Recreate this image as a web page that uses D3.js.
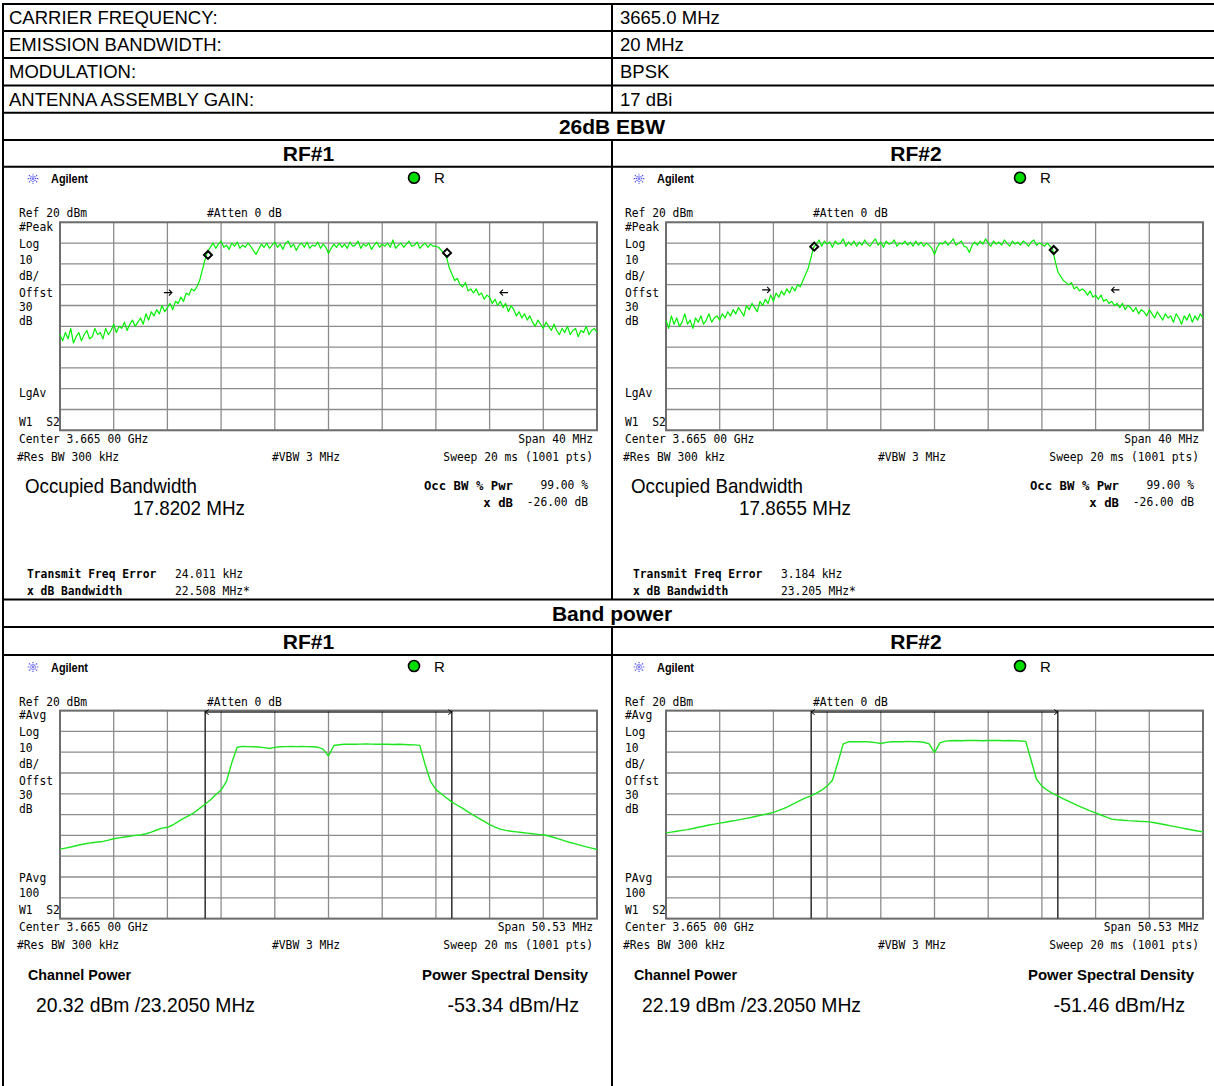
<!DOCTYPE html>
<html>
<head>
<meta charset="utf-8">
<script src="https://cdn.jsdelivr.net/npm/d3@7"></script>
<style>
  body { margin: 0; background: #fff; }
  text { white-space: pre; }
</style>
</head>
<body>
<svg id="sheet" width="1214" height="1086"></svg>
<script>
// ---- table values ----
var infoLabels = ["CARRIER FREQUENCY:", "EMISSION BANDWIDTH:", "MODULATION:", "ANTENNA ASSEMBLY GAIN:"]
var infoValues = ["3665.0 MHz", "20 MHz", "BPSK", "17 dBi"]
var sections = ["26dB EBW", "Band power"]
var ports = ["RF#1", "RF#2"]

// ---- spectrum traces (dBm, evenly spaced over the span) ----
// 26 dB EBW, peak detector, span 40 MHz
var peakRF1 = [
  -34, -37, -33, -36, -31, -38, -35, -33, -37, -34, -32, -36, -35, -31, -34,
  -33, -36, -31, -34, -32, -29, -33, -30, -31, -28, -32, -29, -27, -30, -28,
  -26, -29, -24, -27, -23, -25, -22, -24, -20, -23, -21, -19, -22, -18, -19,
  -16, -18, -14, -15, -12, -13, -11,
  -8, -3, 2, 6,
  8, 10, 7.5, 9.5, 11, 8, 9, 7, 10, 8.5, 10.5, 7.5, 9, 8,
  10, 8.5, 6.5, 4.5, 7, 9.5, 8, 10, 7.5, 9,
  10.5, 8, 9.5, 7, 10, 11, 8, 9.5, 6.5, 9, 10, 8, 10.5, 7.5, 9, 8.5, 10.5, 7.5, 9.5, 8,
  5, 7.5, 9.5, 8,
  10, 8, 9.5, 7.5, 10.5, 8.5, 9, 11, 7.5, 9.5, 8.5, 10, 7, 9, 10.5, 8, 9.5, 8.5,
  10, 8, 11.5, 7.5, 9, 10, 8, 9.5, 11, 8.5, 9, 10.5, 7.5, 9, 10, 8, 9.5, 8.5,
  8.5, 8, 6.5, 5,
  3, -2, -5, -8, -7, -10,
  -11, -9, -13, -12, -14, -12, -15, -14, -17, -15, -16, -19, -17, -20, -18, -21, -19, -23,
  -20, -22, -25, -23, -26, -24, -27, -25, -28, -30, -27, -29, -31, -28, -30, -32, -29,
  -32, -34, -31, -33, -30, -34, -32, -31, -35, -32, -33, -30, -34, -32, -31, -33
]
var peakRF2 = [
  -27, -31, -25, -29, -26, -30, -28, -24, -29, -27, -31, -26, -28, -25, -29, -27, -24, -28, -26, -25, -27,
  -24, -26, -23, -25, -22, -24, -21, -23, -25, -20, -22, -19, -21, -23, -18, -20,
  -17, -19, -15, -18, -14, -16, -13, -15, -12, -14, -11, -13, -10, -11,
  -8, -5, -2, 3, 8,
  9.5, 11.5, 8.5, 11, 9.5, 10.5, 8, 11, 9.5, 10, 12, 8.5, 10.5, 9,
  11, 8.5, 10.5, 9, 11.5, 9.5, 8.5, 10.5, 12, 9, 10.5, 8, 11, 9.5, 10, 11.5, 8.5, 10, 9.5, 11,
  9, 10.5, 8.5, 11, 9, 10.5, 8.5, 10, 9, 7.5,
  4.5, 8, 10, 9.5,
  11, 9, 10.5, 12, 9, 10, 11, 8.5, 8,
  5.5, 9,
  10.5, 9, 11, 9.5, 12, 10, 8.5, 11, 9.5, 10.5, 9, 11.5, 10, 8.5, 11,
  9.5, 10.5, 9, 11, 10, 8.5, 10.5, 11.5, 9, 10, 9.5, 8.5, 10, 8.5,
  7, 1, -4, -6, -8, -9,
  -10, -9, -12, -11, -13, -12, -13, -15, -13, -16, -15, -17, -15, -18, -17, -19,
  -18, -20, -19, -21, -19, -22, -20, -21, -23, -21, -24, -22, -23, -25, -22, -24, -26, -23, -25, -27, -24, -26,
  -25, -28, -24, -26, -29, -25, -27, -24, -28, -25, -27, -24, -26
]
// band power, averaged, span 50.53 MHz
var avgRF1 = [
  -46.6, -46.1, -45.6, -45.0, -44.4, -43.9, -43.5, -43.2, -42.9, -42.3, -41.6,
  -41.2, -40.8, -40.4, -40.0, -39.8, -39.2, -38.4, -37.4, -36.5, -36.1,
  -35, -33.4, -31.8, -30.5, -29, -27, -25, -23, -20.5, -18.2,
  -14, -5, 2.4, 2.8,
  2.7, 2.6, 2.5, 2.2, 1.8, 2.3, 2.6, 2.7, 2.8, 2.7, 2.8, 2.7, 2.6, 2.4,
  1.5, -1.8, 3.2,
  3.6, 3.8, 3.9, 3.8, 3.9, 4.0, 3.9, 3.8, 3.9, 3.8, 3.7, 3.8, 3.7, 3.6, 3.5, 3.3,
  -6, -14, -18, -20, -22, -24, -25.5, -27, -28.7, -30.3,
  -31.8, -33.3, -34.8, -36, -37, -37.6, -38, -38.3, -38.6, -38.9,
  -39.2, -39.5, -39.7, -40.3, -41, -41.8, -42.6, -43.4, -44.1, -44.8,
  -45.5, -46.1, -46.8
]
var avgRF2 = [
  -38.8, -38.4, -38, -37.6, -37.2, -36.7, -36.1, -35.6, -35.0, -34.6, -34.1,
  -33.7, -33.2, -32.8, -32.3, -31.8, -31.3, -30.7, -30.1, -29.6, -28.9,
  -28.0, -27, -25.8, -24.5, -23.2, -22, -21, -19.7, -18.2, -16.3,
  -13.5, -5, 4, 5.0,
  5.1, 5.0, 5.1, 4.9, 4.6, 4.2, 4.7, 5.0, 5.1, 5.0, 5.2, 5.1, 5.0, 4.8,
  4, -0.2, 4.5,
  5.3, 5.5, 5.6, 5.5, 5.6, 5.7, 5.6, 5.5, 5.6, 5.7, 5.6, 5.5, 5.6, 5.5, 5.4, 5.2,
  -4, -13, -16.3, -18.3, -19.8, -21.1, -22.4, -23.6, -24.8, -26,
  -27.1, -28.2, -29.2, -30.2, -31.2, -32.2, -32.5, -32.7, -32.9, -33,
  -33.2, -33.3, -33.5, -33.9, -34.4, -34.9, -35.4, -35.9, -36.4, -36.9,
  -37.4, -37.9, -38.3
]

// ---- readouts and markers ----
var spans = [40, 50.53]
var spanLabels = ["Span 40 MHz", "Span 50.53 MHz"]
var occBW = ["17.8202 MHz", "17.8655 MHz"]
var txFreqErr = ["24.011 kHz", "3.184 kHz"]
var xdBBW = ["22.508 MHz*", "23.205 MHz*"]
var occMarkers = [[[-8.98, 4.3], [8.83, 5.3]], [[-8.96, 8.3], [8.88, 6.7]]]    // [MHz, dBm]
var xdBArrows = [[[-11.96, -13.8], [13.07, -13.8]], [[-12.54, -12.5], [13.48, -12.5]]]
var chanWidth = 23.205
var chanPower = ["20.32 dBm /23.2050 MHz", "22.19 dBm /23.2050 MHz"]
var psd = ["-53.34 dBm/Hz", "-51.46 dBm/Hz"]

// ---- layout ----
var dims = {
    left: 3, right: 1214, split: 612, bottom: 1086,
    rows: [4, 31, 58, 85.5, 112.7, 140, 166.7, 599.5, 627, 655],
    panelLefts: [0, 606],
    grid: { x0: 60, x1: 597, y0: 55.6, y1: 263.6 }
}

var svg = d3.select("#sheet")

function mono(g, x, y, s, o) {
    o = o || {}
    return g.append("text")
        .attr("transform", `translate(${x},${y}) scale(${o.sx || 0.87},1)`)
        .attr("font-family", "DejaVu Sans Mono")
        .attr("font-size", o.size || 13)
        .attr("font-weight", o.bold ? "bold" : "normal")
        .attr("text-anchor", o.anchor || "start")
        .attr("dominant-baseline", "central")
        .attr("fill", "#000")
        .text(s)
}

function sans(g, x, y, s, o) {
    o = o || {}
    var t = g.append("text")
        .attr("x", x).attr("y", y)
        .attr("font-family", "Liberation Sans, Arial, sans-serif")
        .attr("font-size", o.size || 18.5)
        .attr("font-weight", o.bold ? "bold" : "normal")
        .attr("text-anchor", o.anchor || "start")
        .attr("dominant-baseline", "central")
        .attr("fill", "#000")
        .text(s)
    if (o.w) t.attr("textLength", o.w).attr("lengthAdjust", "spacingAndGlyphs")
    return t
}

// ---- table frame ----
var frame = svg.append("g").attr("stroke", "#000").attr("stroke-width", 2)
frame.selectAll("line.h")
    .data(dims.rows)
    .join("line")
    .attr("class", "h")
    .attr("x1", dims.left - 1).attr("x2", dims.right)
    .attr("y1", d => d).attr("y2", d => d)
frame.append("line")
    .attr("x1", dims.left).attr("x2", dims.left)
    .attr("y1", dims.rows[0] - 1).attr("y2", dims.bottom)
frame.selectAll("line.v")
    .data([[dims.rows[0], dims.rows[4]], [dims.rows[5], dims.rows[7]], [dims.rows[8], dims.bottom]])
    .join("line")
    .attr("class", "v")
    .attr("x1", dims.split).attr("x2", dims.split)
    .attr("y1", d => d[0]).attr("y2", d => d[1])

infoLabels.forEach(function (s, i) {
    var yc = (dims.rows[i] + dims.rows[i + 1]) / 2
    sans(svg, 9, yc, s)
    sans(svg, 620, yc, infoValues[i])
})

// section + port headers
sections.forEach(function (s, k) {
    var r = k == 0 ? 4 : 7
    sans(svg, dims.split, (dims.rows[r] + dims.rows[r + 1]) / 2, s, { bold: true, size: 21, anchor: "middle" })
    ports.forEach(function (p, j) {
        var cx = j == 0 ? (dims.left + dims.split) / 2 + 1 : (dims.split + dims.right) / 2 + 3
        sans(svg, cx, (dims.rows[r + 1] + dims.rows[r + 2]) / 2, p, { bold: true, size: 21, anchor: "middle" })
    })
})

// ---- one analyzer screen ----
function agilentIcon(g, cx, cy) {
    var ic = g.append("g").attr("stroke", "#4f4fee").attr("stroke-width", 1.2)
    d3.range(8).forEach(function (a) {
        var ang = a * Math.PI / 4
        ic.append("line")
            .attr("x1", cx + Math.cos(ang) * 2).attr("y1", cy + Math.sin(ang) * 2)
            .attr("x2", cx + Math.cos(ang) * 6).attr("y2", cy + Math.sin(ang) * 5)
            .attr("stroke-dasharray", "1.3,0.8")
    })
    ic.append("circle").attr("cx", cx).attr("cy", cy).attr("r", 1.4).attr("fill", "#8080ff").attr("stroke", "none")
}

function screen(k, mode) {
    var px = dims.panelLefts[k]
    var py = mode == "obw" ? dims.rows[6] : dims.rows[9]
    var G = dims.grid
    var span = mode == "obw" ? spans[0] : spans[1]
    var trace = mode == "obw" ? [peakRF1, peakRF2][k] : [avgRF1, avgRF2][k]
    var g = svg.append("g").attr("transform", `translate(${px},${py})`)

    var x = d3.scaleLinear().domain([-span / 2, span / 2]).range([G.x0, G.x1])
    var y = d3.scaleLinear().domain([-80, 20]).range([G.y1, G.y0])

    // header strip
    agilentIcon(g, 33, 12)
    sans(g, 51, 12, "Agilent", { size: 13.5, bold: true, w: 37 })
    g.append("circle").attr("cx", 414).attr("cy", 11).attr("r", 5.5)
        .attr("fill", "#00dd00").attr("stroke", "#000").attr("stroke-width", 1.6)
    sans(g, 434, 11, "R", { size: 15 })

    mono(g, 19, 46.5, "Ref 20 dBm")
    mono(g, 207, 46.5, "#Atten 0 dB")

    var leftLabels = mode == "obw"
        ? ["#Peak", "Log", "10", "dB/", "Offst", "30", "dB"]
        : ["#Avg", "Log", "10", "dB/", "Offst", "30", "dB"]
    var leftOff = [4.6, 21.2, 37.2, 53.2, 70, 84.2, 98.4]
    leftLabels.forEach((s, i) => mono(g, 19, G.y0 + leftOff[i], s))
    if (mode == "obw") {
        mono(g, 19, G.y0 + 170, "LgAv")
    } else {
        mono(g, 19, G.y0 + 167.3, "PAvg")
        mono(g, 19, G.y0 + 182.5, "100")
    }
    mono(g, 19, G.y0 + 199.5, "W1  S2")

    // graticule
    var xt = d3.range(11).map(i => -span / 2 + i * span / 10)
    var yt = d3.range(-80, 21, 10)
    var grid = g.append("g").attr("stroke", "#8c8c8c").attr("stroke-width", 1.3)
    grid.selectAll("line.gx").data(xt).join("line")
        .attr("x1", d => x(d)).attr("x2", d => x(d))
        .attr("y1", G.y0).attr("y2", G.y1)
    grid.selectAll("line.gy").data(yt).join("line")
        .attr("x1", G.x0).attr("x2", G.x1)
        .attr("y1", d => y(d)).attr("y2", d => y(d))
    g.append("rect")
        .attr("x", G.x0).attr("y", G.y0)
        .attr("width", G.x1 - G.x0).attr("height", G.y1 - G.y0)
        .attr("fill", "none").attr("stroke", "#6e6e6e").attr("stroke-width", 2)

    if (mode == "band") {
        var xl = x(-chanWidth / 2), xr = x(chanWidth / 2)
        g.append("g").attr("stroke", "#3a3a3a").attr("stroke-width", 1.6)
            .selectAll("line").data([-chanWidth / 2, chanWidth / 2]).join("line")
            .attr("x1", d => x(d)).attr("x2", d => x(d))
            .attr("y1", G.y0).attr("y2", G.y1)
        var ya = G.y0 + 1.5
        g.append("path")
            .attr("d", `M${xl},${ya}L${xr},${ya}M${xl + 3.5},${ya - 2.5}L${xl},${ya}L${xl + 3.5},${ya + 2.5}M${xr - 3.5},${ya - 2.5}L${xr},${ya}L${xr - 3.5},${ya + 2.5}`)
            .attr("fill", "none").attr("stroke", "#000").attr("stroke-width", 1)
    }

    // trace
    var n = trace.length
    var line = d3.line()
        .x((d, i) => x(-span / 2 + i * span / (n - 1)))
        .y(d => y(d))
    g.append("path")
        .datum(trace)
        .attr("d", line)
        .attr("fill", "none")
        .attr("stroke", mode == "obw" ? "#00f000" : "#1ee61e")
        .attr("stroke-width", mode == "obw" ? 1.2 : 1.4)
        .attr("stroke-linejoin", "round")

    if (mode == "obw") {
        g.selectAll("path.dm").data(occMarkers[k]).join("path")
            .attr("class", "dm")
            .attr("d", d => { var cx = x(d[0]), cy = y(d[1]); return `M${cx},${cy - 4}L${cx + 4},${cy}L${cx},${cy + 4}L${cx - 4},${cy}Z` })
            .attr("fill", "none").attr("stroke", "#000").attr("stroke-width", 2)
        g.selectAll("path.ar").data(xdBArrows[k]).join("path")
            .attr("class", "ar")
            .attr("d", (d, i) => {
                var cx = x(d[0]), cy = y(d[1]), s = i == 0 ? 1 : -1
                return `M${cx - 4 * s},${cy}L${cx + 4 * s},${cy}M${cx + 1 * s},${cy - 3}L${cx + 4 * s},${cy}L${cx + 1 * s},${cy + 3}`
            })
            .attr("fill", "none").attr("stroke", "#000").attr("stroke-width", 1.1)
    }

    // footer lines
    mono(g, 19, G.y1 + 8.6, "Center 3.665 00 GHz")
    mono(g, 593, G.y1 + 8.6, spanLabels[mode == "obw" ? 0 : 1], { anchor: "end" })
    mono(g, 17, G.y1 + 26, "#Res BW 300 kHz")
    mono(g, 272, G.y1 + 26, "#VBW 3 MHz")
    mono(g, 593, G.y1 + 26, "Sweep 20 ms (1001 pts)", { anchor: "end" })

    if (mode == "obw") {
        sans(g, 25, 319.3, "Occupied Bandwidth", { size: 21, w: 172 })
        sans(g, 133, 341.3, occBW[k], { size: 21, w: 112 })
        mono(g, 513, 318.3, "Occ BW % Pwr", { bold: true, anchor: "end", sx: 0.95 })
        mono(g, 588, 318.3, "99.00 %", { anchor: "end" })
        mono(g, 513, 335.3, "x dB", { bold: true, anchor: "end", sx: 0.95 })
        mono(g, 588, 335.3, "-26.00 dB", { anchor: "end" })
        mono(g, 27, 407.3, "Transmit Freq Error", { bold: true })
        mono(g, 175, 407.3, txFreqErr[k])
        mono(g, 27, 424.3, "x dB Bandwidth", { bold: true })
        mono(g, 175, 424.3, xdBBW[k])
    } else {
        sans(g, 28, 319, "Channel Power", { size: 15, bold: true, w: 103 })
        sans(g, 588, 319, "Power Spectral Density", { size: 15, bold: true, w: 166, anchor: "end" })
        sans(g, 36, 349, chanPower[k], { size: 21, w: 219 })
        sans(g, 579, 349, psd[k], { size: 21, w: 131.5, anchor: "end" })
    }
}

screen(0, "obw")
screen(1, "obw")
screen(0, "band")
screen(1, "band")
</script>
</body>
</html>
